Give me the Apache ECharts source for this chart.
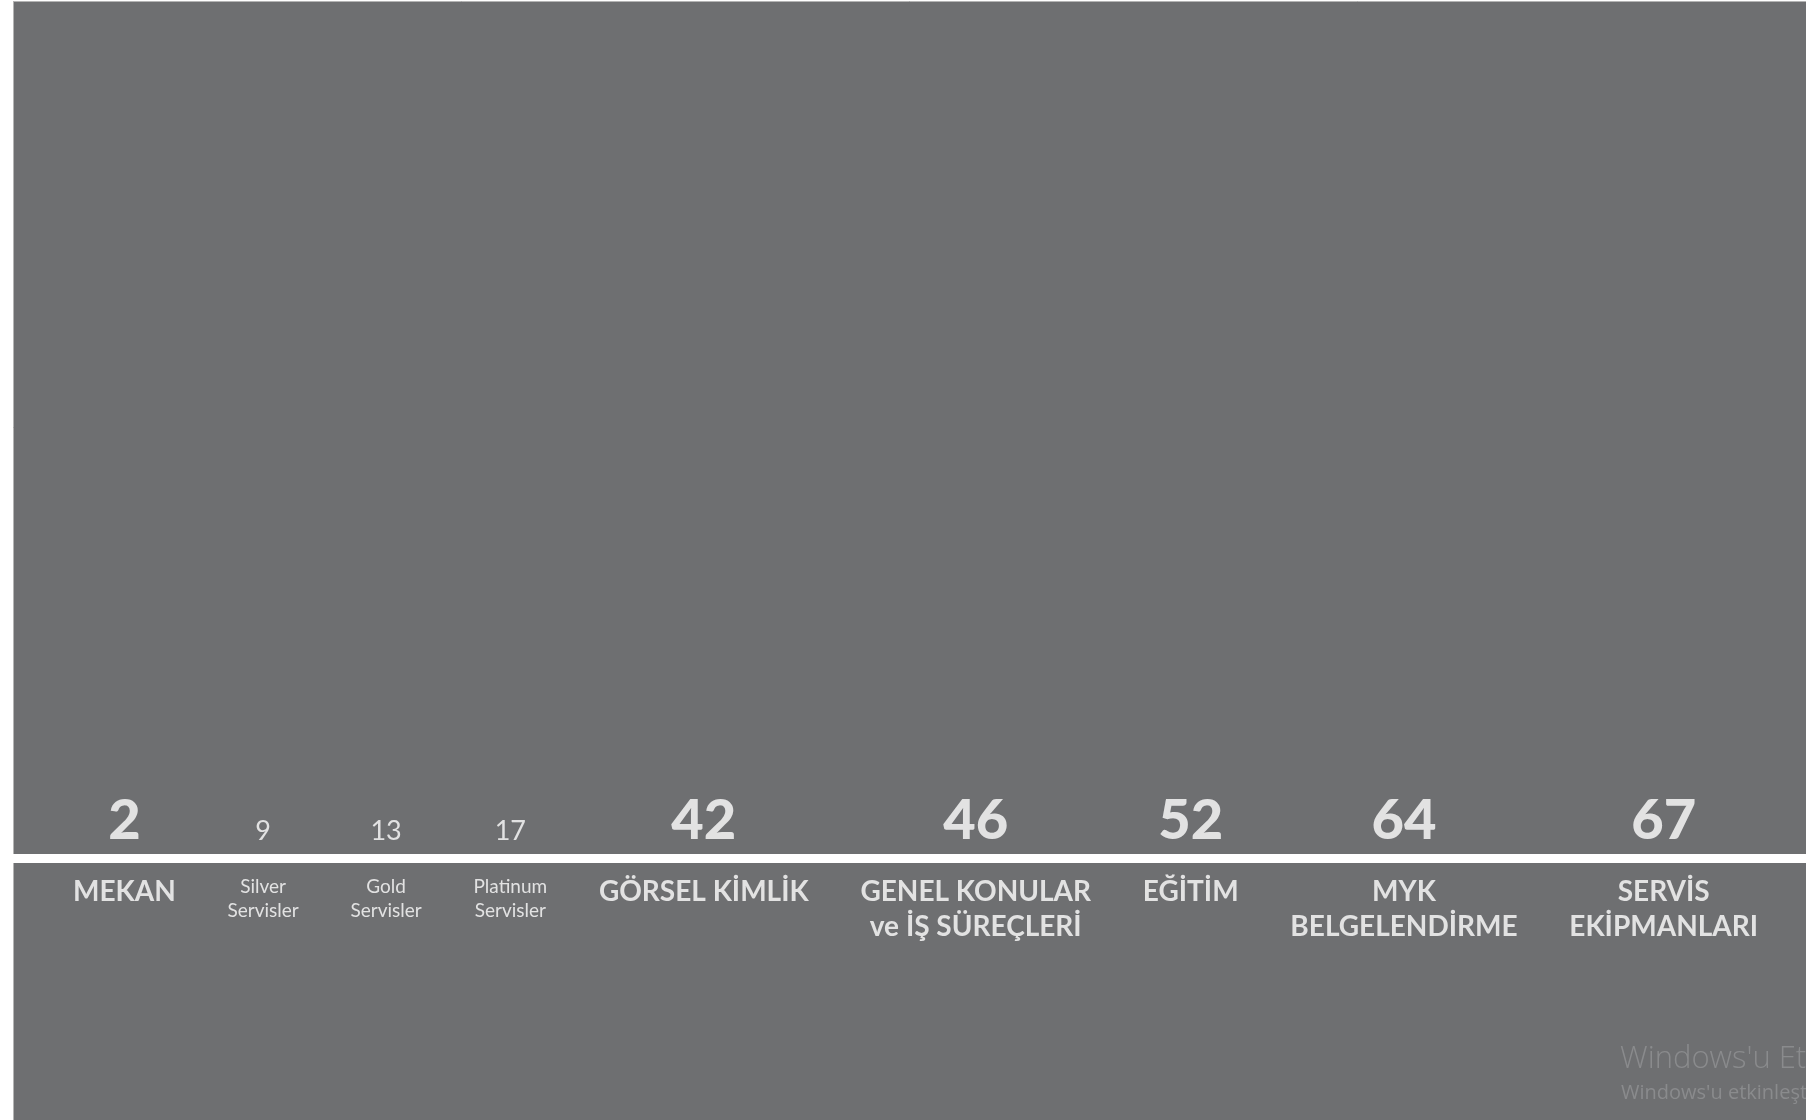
<!DOCTYPE html>
<html>
<head>
<meta charset="utf-8">
<script src="https://cdn.jsdelivr.net/npm/echarts@6/dist/echarts.min.js"></script>
<style>
html,body{margin:0;padding:0;background:#ffffff;}
#main{width:1806px;height:1120px;}
</style>
</head>
<body>
<div id="main"></div>
<script>
// ---- data ----
const categories = [
  'MEKAN',
  'Silver\nServisler',
  'Gold\nServisler',
  'Platinum\nServisler',
  'GÖRSEL KİMLİK',
  'GENEL KONULAR\nve İŞ SÜREÇLERİ',
  'EĞİTİM',
  'MYK\nBELGELENDİRME',
  'SERVİS\nEKİPMANLARI'
];
const values = [2, 9, 13, 17, 42, 46, 52, 64, 67];
const isSubCategory = [false, true, true, true, false, false, false, false, false];
const watermarkLines = ["Windows'u Etkinleştir", "Windows'u etkinleştirmek için Ayarlar'a gidin."];

// ---- layout / style ----
const W = 1806, H = 1120;
const FONT = 'Lato, "Open Sans", "DejaVu Sans", sans-serif';
const PANEL = '#6e6f71';
const nameStyle = sub => sub
  ? { fontSize: 19, fontWeight: 'normal', lineHeight: 24, distance: 16 }
  : { fontSize: 28, fontWeight: 'bold', lineHeight: 35, distance: 15 };
const valStyle = sub => sub
  ? { fontSize: 27, fontWeight: 'normal', lineHeight: 28, distance: 13 }
  : { fontSize: 56, fontWeight: 900, lineHeight: 56, distance: 9 };

// flow layout: items placed side by side according to their text widths
const ctx = document.createElement('canvas').getContext('2d');
function textWidth(str, st) {
  ctx.font = st.fontWeight + ' ' + st.fontSize + 'px ' + FONT;
  return Math.max.apply(null, String(str).split('\n').map(s => ctx.measureText(s).width));
}
const widths = categories.map((c, i) =>
  Math.max(textWidth(c, nameStyle(isSubCategory[i])), textWidth(values[i], valStyle(isSubCategory[i]))));
const spanStart = 73, spanEnd = 1758;
const gap = (spanEnd - spanStart - widths.reduce((a, b) => a + b, 0)) / (categories.length - 1);
let cursor = spanStart;
const positions = widths.map(w => { const c = cursor + w / 2; cursor += w + gap; return c; });

const valueData = values.map((v, i) => {
  const st = valStyle(isSubCategory[i]);
  return {
    value: [positions[i], 0],
    label: {
      show: true, position: 'top', distance: st.distance,
      fontSize: st.fontSize, fontWeight: st.fontWeight, lineHeight: st.lineHeight,
      fontFamily: FONT, color: '#ffffff',
      formatter: String(v)
    }
  };
});
const nameData = categories.map((c, i) => {
  const st = nameStyle(isSubCategory[i]);
  return {
    value: [positions[i], 0],
    label: {
      show: true, position: 'bottom', distance: st.distance,
      fontSize: st.fontSize, fontWeight: st.fontWeight, lineHeight: st.lineHeight,
      fontFamily: FONT, color: '#ffffff', align: 'center',
      formatter: c
    }
  };
});

const chart = echarts.init(document.getElementById('main'), null, { renderer: 'canvas', width: W, height: H });
chart.setOption({
  animation: false,
  backgroundColor: PANEL,
  grid: { left: 0, right: 0, top: 0, bottom: H - 858.5 },
  xAxis: {
    type: 'value', min: 0, max: W,
    axisLine: { show: true, onZero: false, lineStyle: { color: '#ffffff', width: 9, cap: 'butt' } },
    axisTick: { show: false }, axisLabel: { show: false }, splitLine: { show: false }
  },
  yAxis: { type: 'value', min: 0, max: 1, show: false },
  series: [
    {
      type: 'scatter', name: 'değer', symbolSize: 1,
      itemStyle: { color: 'rgba(0,0,0,0)' },
      data: valueData, silent: true
    },
    {
      type: 'scatter', name: 'kategori', symbolSize: 1,
      itemStyle: { color: 'rgba(0,0,0,0)' },
      data: nameData, silent: true
    }
  ],
  graphic: {
    elements: [
      { type: 'rect', shape: { x: 0, y: 0, width: 13, height: H }, style: { fill: '#ffffff' }, silent: true },
      { type: 'rect', shape: { x: 0, y: 0, width: W, height: 1 }, style: { fill: '#ffffff' }, silent: true },
      { type: 'line', shape: { x1: 13.5, y1: 1, x2: 13.5, y2: 854 }, style: { stroke: '#b4b4b4', lineWidth: 1 }, silent: true },
      { type: 'line', shape: { x1: 13.5, y1: 863, x2: 13.5, y2: H }, style: { stroke: '#b4b4b4', lineWidth: 1 }, silent: true },
      { type: 'line', shape: { x1: 13, y1: 1.5, x2: W, y2: 1.5 }, style: { stroke: '#b4b4b4', lineWidth: 1 }, silent: true },
      { type: 'text', x: 1620, y: 1044, silent: true,
        style: { text: watermarkLines[0], fill: '#8a8b8d', font: '300 31px "Open Sans", "Noto Sans", sans-serif', textVerticalAlign: 'top' } },
      { type: 'text', x: 1621, y: 1083, silent: true,
        style: { text: watermarkLines[1], fill: '#8a8b8d', font: '20px "Open Sans", "Noto Sans", sans-serif', textVerticalAlign: 'top' } }
    ]
  }
});
</script>
</body>
</html>
